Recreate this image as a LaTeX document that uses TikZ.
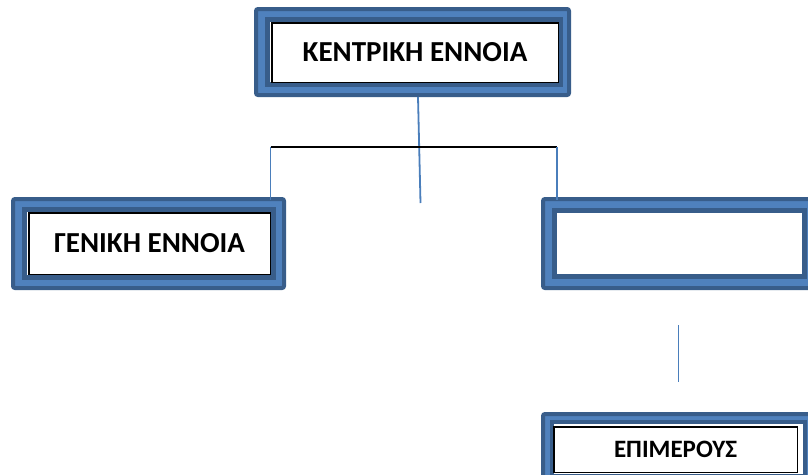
\documentclass[tikz,border=0pt]{standalone}
\usepackage{fontspec}
\setmainfont{Carlito}
\usetikzlibrary{calc}
\definecolor{frameblue}{HTML}{4F81BD}
\definecolor{ringblue}{HTML}{385D8A}
\definecolor{lineblue}{HTML}{4A7EBB}
\tikzset{
  outerframe/.style={rectangle, rounded corners=2pt, fill=frameblue, draw=ringblue, line width=4pt, inner sep=0pt},
  innerring/.style={rectangle, fill=white, draw=ringblue, line width=5pt, inner sep=0pt},
  conceptbox/.style={rectangle, fill=white, draw=black, line width=1.5pt, inner sep=0pt, font=\bfseries\fontsize{29}{34}\selectfont},
  link/.style={lineblue, line width=1.8pt},
}

\begin{document}
\begin{tikzpicture}[x=1pt,y=-1pt]
  \useasboundingbox (0,0) rectangle (808,474);
  \clip (0,0) rectangle (808,474);
  % top concept
  \node (kframe) at (412.5,52) [outerframe, minimum width=313pt, minimum height=86pt]{};
  \node (kring) at (414,52) [innerring, minimum width=293pt, minimum height=65pt]{};
  \node (kentriki) at (415,52.5) [conceptbox, minimum width=286.5pt, minimum height=59.5pt]{ΚΕΝΤΡΙΚΗ ΕΝΝΟΙΑ};
  % left concept
  \node (gframe) at (148.5,243.5) [outerframe, minimum width=271pt, minimum height=89pt]{};
  \node (gring) at (149,243.5) [innerring, minimum width=249pt, minimum height=68pt]{};
  \node (geniki) at (149.5,243.5) [conceptbox, minimum width=241.5pt, minimum height=61.5pt]{ΓΕΝΙΚΗ ΕΝΝΟΙΑ};
  % right concept (empty)
  \node (eframe) at (678.5,243.5) [outerframe, minimum width=271pt, minimum height=89pt]{};
  \node (ering) at (679.5,243.5) [innerring, minimum width=250pt, minimum height=66pt]{};
  % bottom concept
  \node (mframe) at (678.5,458.5) [outerframe, minimum width=271pt, minimum height=89pt]{};
  \node (mring) at (678.5,449) [innerring, line width=4pt, minimum width=253pt, minimum height=54pt]{};
  \node (epimerous) at (675.5,449.5) [conceptbox, minimum width=243.5pt, minimum height=45.5pt, font=\bfseries\fontsize{25}{30}\selectfont]{ΕΠΙΜΕΡΟΥΣ};

  \coordinate (ktail) at (420.5,203);
  \coordinate (bleft) at (270.5,147);
  \coordinate (bright) at (557,147);
  \coordinate (stemtop) at (678.5,325);
  \coordinate (stembottom) at (678.5,382);
  \draw [link] ([xshift=5.5pt]kframe.south) -- (ktail);
  \draw [black, line width=2pt] (bleft) -- (bright);
  \draw [link] (bleft) -- ($(bleft |- gframe.north)+(0,3)$);
  \draw [link] (bright) -- ($(bright |- eframe.north)+(0,3)$);
  \draw [link] (stemtop) -- (stembottom);
\end{tikzpicture}
\end{document}
